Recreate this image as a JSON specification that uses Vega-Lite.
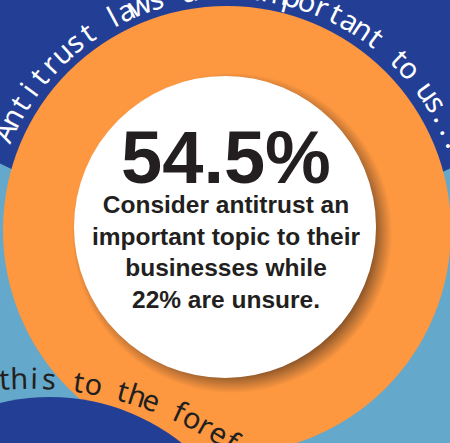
{
  "$schema": "https://vega.github.io/schema/vega-lite/v6.json",
  "width": 450,
  "height": 443,
  "autosize": {"type": "none"},
  "padding": 0,
  "background": "#64a8cb",
  "config": {"view": {"stroke": null}},
  "data": {"values": [{"share": "54.5%", "caption": "Consider antitrust an\nimportant topic to their\nbusinesses while\n22% are unsure."}]},
  "datasets": {
    "top": [
      {"i": 0, "ch": "A"}, {"i": 1, "ch": "n"}, {"i": 2, "ch": "t"}, {"i": 3, "ch": "i"}, {"i": 4, "ch": "t"}, {"i": 5, "ch": "r"}, {"i": 6, "ch": "u"}, {"i": 7, "ch": "s"}, {"i": 8, "ch": "t"}, {"i": 9, "ch": " "},
      {"i": 10, "ch": "l"}, {"i": 11, "ch": "a"}, {"i": 12, "ch": "w"}, {"i": 13, "ch": "s"}, {"i": 14, "ch": " "}, {"i": 15, "ch": "a"}, {"i": 16, "ch": "r"}, {"i": 17, "ch": "e"}, {"i": 18, "ch": " "},
      {"i": 19, "ch": "i"}, {"i": 20, "ch": "m"}, {"i": 21, "ch": "p"}, {"i": 22, "ch": "o"}, {"i": 23, "ch": "r"}, {"i": 24, "ch": "t"}, {"i": 25, "ch": "a"}, {"i": 26, "ch": "n"}, {"i": 27, "ch": "t"}, {"i": 28, "ch": " "},
      {"i": 29, "ch": "t"}, {"i": 30, "ch": "o"}, {"i": 31, "ch": " "}, {"i": 32, "ch": "u"}, {"i": 33, "ch": "s"}, {"i": 34, "ch": "."}, {"i": 35, "ch": "."}, {"i": 36, "ch": "."}
    ],
    "bottom": [
      {"i": 0, "ch": "t"}, {"i": 1, "ch": "h"}, {"i": 2, "ch": "i"}, {"i": 3, "ch": "s"}, {"i": 4, "ch": " "}, {"i": 5, "ch": "t"}, {"i": 6, "ch": "o"}, {"i": 7, "ch": " "},
      {"i": 8, "ch": "t"}, {"i": 9, "ch": "h"}, {"i": 10, "ch": "e"}, {"i": 11, "ch": " "}, {"i": 12, "ch": "f"}, {"i": 13, "ch": "o"}, {"i": 14, "ch": "r"}, {"i": 15, "ch": "e"}, {"i": 16, "ch": "f"}, {"i": 17, "ch": "r"}, {"i": 18, "ch": "o"}, {"i": 19, "ch": "n"}, {"i": 20, "ch": "t"}
    ]
  },
  "layer": [
    {
      "mark": {"type": "arc", "theta": 0, "theta2": 6.2832, "fill": "#233f95"},
      "encoding": {
        "x": {"datum": 51.11, "type": "quantitative", "scale": {"domain": [0, 100], "nice": false, "zero": false}, "axis": null},
        "y": {"datum": -65.56, "type": "quantitative", "scale": {"domain": [0, 98.444], "nice": false, "zero": false, "reverse": true}, "axis": null},
        "radius": {"datum": 114, "type": "quantitative", "scale": {"type": "linear", "domain": [0, 100], "range": [0, 450], "zero": true}}
      }
    },
    {
      "mark": {"type": "arc", "theta": 0, "theta2": 6.2832, "fill": "#fd9740"},
      "encoding": {
        "x": {"datum": 50.44, "type": "quantitative"},
        "y": {"datum": 51.11, "type": "quantitative"},
        "radius": {"datum": 49.78, "type": "quantitative"}
      }
    },
    {
      "mark": {"type": "arc", "theta": 0, "theta2": 6.2832, "fill": "#233f95"},
      "encoding": {
        "x": {"datum": 11.11, "type": "quantitative"},
        "y": {"datum": 135.33, "type": "quantitative"},
        "radius": {"datum": 47.1, "type": "quantitative"}
      }
    },
    {
      "mark": {"type": "arc", "theta": 0, "theta2": 6.2832,
        "fill": {"gradient": "radial", "stops": [
          {"offset": 0, "color": "#6e4220"},
          {"offset": 0.87, "color": "#7b4a22"},
          {"offset": 0.94, "color": "#c27636"},
          {"offset": 1, "color": "#fd9740"}
        ]}},
      "encoding": {
        "x": {"datum": 51.56, "type": "quantitative"},
        "y": {"datum": 51.78, "type": "quantitative"},
        "radius": {"datum": 35.56, "type": "quantitative"}
      }
    },
    {
      "mark": {"type": "arc", "theta": 0, "theta2": 6.2832, "fill": "#ffffff"},
      "encoding": {
        "x": {"datum": 50.0, "type": "quantitative"},
        "y": {"datum": 50.44, "type": "quantitative"},
        "radius": {"datum": 33.56, "type": "quantitative"}
      }
    },
    {
      "data": {"name": "top"},
      "mark": {"type": "text", "font": "Noto Sans", "fontSize": 29, "color": "#ffffff", "align": "center", "baseline": "middle"},
      "encoding": {
        "x": {"datum": 50.67, "type": "quantitative"},
        "y": {"datum": 52.0, "type": "quantitative"},
        "radius": {"datum": 54.3, "type": "quantitative"},
        "theta": {"field": "i", "type": "quantitative", "stack": null, "scale": {"domain": [0, 8, 12, 21, 29, 36], "range": [-1.1432, -0.6091, -0.3683, 0.2653, 0.7732, 1.1903]}},
        "angle": {"field": "i", "type": "quantitative", "scale": {"domain": [0, 8, 12, 21, 29, 36], "range": [-65.5, -34.9, -21.1, 15.2, 44.3, 68.2]}},
        "text": {"field": "ch"}
      }
    },
    {
      "data": {"name": "bottom"},
      "mark": {"type": "text", "font": "Noto Sans", "fontSize": 29, "color": "#231f20", "align": "center", "baseline": "middle"},
      "encoding": {
        "x": {"datum": 6.22, "type": "quantitative"},
        "y": {"datum": 164.0, "type": "quantitative"},
        "radius": {"datum": 79.6, "type": "quantitative"},
        "theta": {"field": "i", "type": "quantitative", "stack": null, "scale": {"domain": [0, 20], "range": [-0.0663, 0.768]}},
        "angle": {"field": "i", "type": "quantitative", "scale": {"domain": [0, 20], "range": [-3.8, 44.0]}},
        "text": {"field": "ch"}
      }
    },
    {
      "mark": {"type": "text", "font": "Liberation Sans", "fontWeight": "bold", "fontSize": 74, "color": "#231f20", "align": "center", "baseline": "alphabetic"},
      "encoding": {
        "x": {"datum": 50.22, "type": "quantitative"},
        "y": {"datum": 40.67, "type": "quantitative"},
        "text": {"field": "share"}
      }
    },
    {
      "mark": {"type": "text", "font": "Liberation Sans", "fontWeight": "bold", "fontSize": 24.5, "lineHeight": 31.7, "lineBreak": "\n", "color": "#231f20", "align": "center", "baseline": "alphabetic"},
      "encoding": {
        "x": {"datum": 50.22, "type": "quantitative"},
        "y": {"datum": 47.33, "type": "quantitative"},
        "text": {"field": "caption"}
      }
    }
  ],
  "resolve": {"scale": {"theta": "independent", "angle": "independent"}}
}
